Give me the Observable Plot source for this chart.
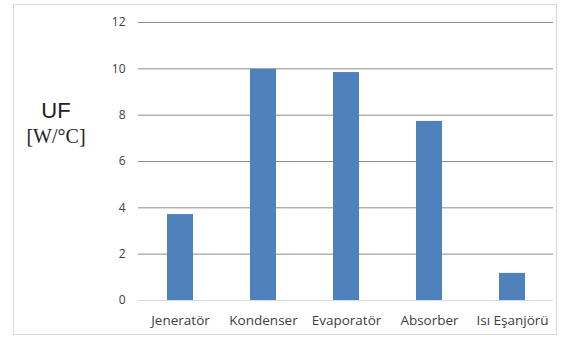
<!DOCTYPE html>
<html>
<head>
<meta charset="utf-8">
<script src="https://cdn.jsdelivr.net/npm/d3@7"></script>
<script src="https://cdn.jsdelivr.net/npm/@observablehq/plot@0.6"></script>
<style>
  html, body { margin: 0; padding: 0; background: #fff; }
  #wrap { position: relative; width: 561px; height: 340px; }
  #border { position: absolute; left: 13px; top: 4px; width: 544px; height: 331px; border: 1px solid #d9d9d9; box-sizing: border-box; }
  .ylab1 { position: absolute; left: 0; width: 112px; text-align: center; top: 98px; font: 22px "Liberation Sans", Arial, sans-serif; color: #222; }
  .ylab2 { position: absolute; left: 0; width: 112px; text-align: center; top: 125px; font: 20px "Liberation Serif", serif; color: #222; }
  svg { position: absolute; left: 0; top: 0; }
</style>
</head>
<body>
<div id="wrap"><div id="border"></div></div>
<script>
const categories = ["Jeneratör", "Kondenser", "Evaporatör", "Absorber", "Isı Eşanjörü"];
const values = [3.71, 9.98, 9.84, 7.73, 1.17];
const yTicks = [0, 2, 4, 6, 8, 10, 12];
const yTitle = "UF";
const yUnit = "[W/\u00B0C]";

const data = categories.map((c, i) => ({category: c, value: values[i]}));

const chart = Plot.plot({
  width: 561,
  height: 340,
  marginLeft: 138,
  marginRight: 8,
  marginTop: 22,
  marginBottom: 40,
  style: {fontFamily: "'Open Sans', sans-serif", fontSize: "13px", color: "#404040", background: "transparent"},
  x: {domain: categories, paddingInner: 0.69, paddingOuter: 0.345, label: null},
  y: {domain: [0, 12], ticks: yTicks, label: null},
  marks: [
    Plot.gridY(yTicks.filter(d => d > 0), {stroke: "#8c8c8c", strokeOpacity: 1, strokeWidth: 1}),
    Plot.ruleY([0], {stroke: "#d9d9d9", strokeWidth: 1}),
    Plot.barY(data, {x: "category", y: "value", fill: "#4f81bd"}),
    Plot.axisY(yTicks, {tickSize: 0, tickPadding: 13, fontSize: 12, fill: "#404040"}),
    Plot.axisX({tickSize: 0, tickPadding: 15, fontSize: 13.5, fill: "#404040"})
  ]
});

const wrap = document.getElementById("wrap");
wrap.appendChild(chart);
const l1 = document.createElement("div"); l1.className = "ylab1"; l1.textContent = yTitle; wrap.appendChild(l1);
const l2 = document.createElement("div"); l2.className = "ylab2"; l2.textContent = yUnit; wrap.appendChild(l2);
</script>
</body>
</html>
